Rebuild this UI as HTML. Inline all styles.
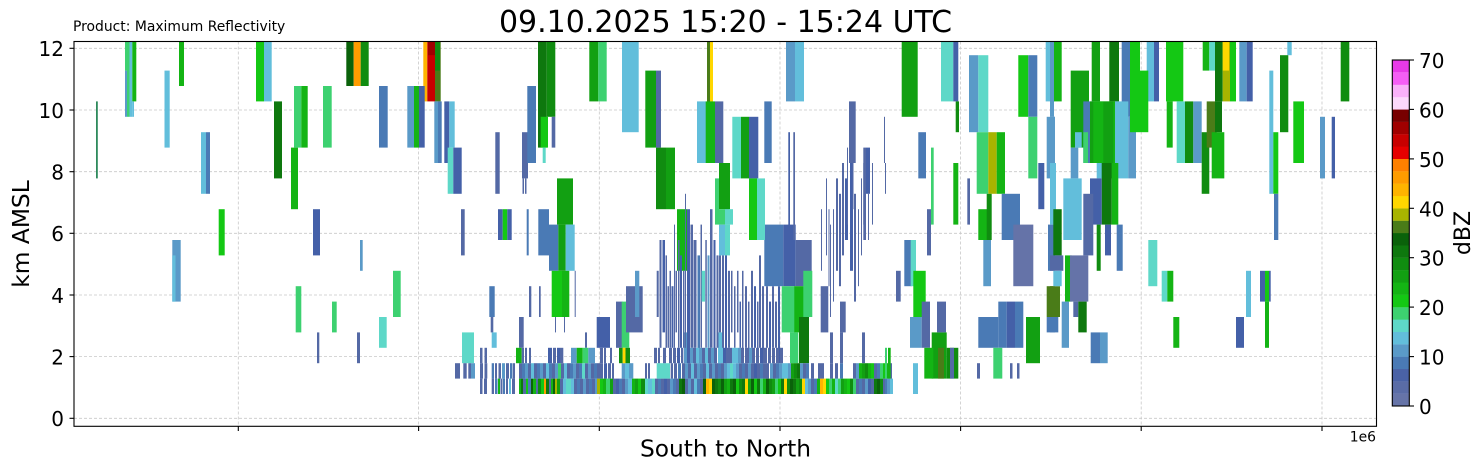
<!DOCTYPE html>
<html><head><meta charset="utf-8"><style>
html,body{margin:0;padding:0;background:#fff;}
svg{display:block;font-family:"DejaVu Sans","Liberation Sans",sans-serif;}
.A{fill:#6573a8}.B{fill:#5469a5}.C{fill:#4460a8}.D{fill:#4a7ab5}.E{fill:#5a9ac8}.F{fill:#62bedb}
.G{fill:#5ed8c8}.H{fill:#3dd170}.I{fill:#14c814}.J{fill:#14b414}.K{fill:#12a012}.L{fill:#108c10}
.M{fill:#0e780e}.N{fill:#0a620a}.O{fill:#4a7c18}.P{fill:#a8b400}.Q{fill:#ffd700}.R{fill:#ffb400}
.S{fill:#ff9c00}.T{fill:#ff8000}.U{fill:#e60000}.V{fill:#c80000}.W{fill:#a00000}.X{fill:#780000}
</style></head><body>
<svg width="1482" height="470" viewBox="0 0 1482 470" xmlns="http://www.w3.org/2000/svg">
<defs><clipPath id="ax"><rect x="74" y="41.5" width="1302.5" height="384.8"/></clipPath></defs>
<rect width="1482" height="470" fill="#fff"/>
<!-- grid -->
<g stroke="#c8c8c8" stroke-width="0.8" stroke-dasharray="3,2" fill="none">
<line x1="74" x2="1376.5" y1="418.3" y2="418.3"/><line x1="74" x2="1376.5" y1="356.6" y2="356.6"/>
<line x1="74" x2="1376.5" y1="295" y2="295"/><line x1="74" x2="1376.5" y1="233.3" y2="233.3"/>
<line x1="74" x2="1376.5" y1="171.7" y2="171.7"/><line x1="74" x2="1376.5" y1="110" y2="110"/>
<line x1="74" x2="1376.5" y1="48.3" y2="48.3"/>
<line x1="238.3" x2="238.3" y1="41.5" y2="426.3"/><line x1="418.6" x2="418.6" y1="41.5" y2="426.3"/>
<line x1="599.3" x2="599.3" y1="41.5" y2="426.3"/><line x1="780" x2="780" y1="41.5" y2="426.3"/>
<line x1="960.6" x2="960.6" y1="41.5" y2="426.3"/><line x1="1141.2" x2="1141.2" y1="41.5" y2="426.3"/>
<line x1="1322" x2="1322" y1="41.5" y2="426.3"/>
</g>
<g clip-path="url(#ax)"><g transform="matrix(1 0 0 -15.4 0 394)">
<!-- zoom6 -->
<rect x="96" y="14" width="1.8" height="5" fill="#2e8a5c"/>
<rect x="125" y="18" width="2" height="3" class="E"/>
<rect x="127" y="18" width="2.5" height="5.3" class="H"/>
<rect x="125" y="21" width="2" height="2.3" class="H"/>
<rect x="129.5" y="18" width="2.8" height="5.3" class="F"/>
<rect x="132.3" y="19" width="4" height="4.3" class="J"/>
<rect x="132.3" y="18" width="1.7" height="1" class="F"/>
<rect x="164.5" y="16" width="5.2" height="5" class="F"/>
<rect x="179" y="20" width="5" height="3.3" class="J"/>
<rect x="201" y="13" width="5" height="4" class="F"/>
<rect x="206" y="13" width="4" height="4" class="D"/>
<rect x="218.7" y="9" width="6" height="3" class="I"/>
<rect x="172.3" y="6" width="8.4" height="4" class="E"/>
<rect x="172.3" y="6" width="3.2" height="3" class="F"/>
<rect x="256" y="19" width="8" height="4.3" class="I"/>
<rect x="264" y="19" width="7.7" height="4.3" class="F"/>
<rect x="274" y="14" width="8" height="5" class="M"/>
<rect x="291" y="12" width="7" height="4" class="J"/>
<rect x="294" y="16" width="7.3" height="4" class="H"/>
<rect x="301.3" y="16" width="6.4" height="4" class="J"/>
<rect x="323" y="16" width="8.7" height="4" class="H"/>
<rect x="313" y="9" width="7" height="3" class="C"/>
<rect x="346.3" y="20" width="7.4" height="3.3" class="N"/>
<rect x="353.7" y="20" width="7" height="3.3" class="S"/>
<rect x="360.7" y="20" width="8" height="3.3" class="L"/>
<rect x="379" y="16" width="8.7" height="4" class="D"/>
<rect x="360" y="8" width="2.7" height="2" class="E"/>
<rect x="393" y="5" width="7.7" height="3" class="H"/>
<rect x="379" y="3" width="7.7" height="2" class="G"/>
<rect x="295.7" y="4" width="5.6" height="3" class="H"/>
<rect x="332" y="4" width="4.7" height="2" class="H"/>
<rect x="317" y="2" width="2.3" height="2" class="B"/>
<rect x="357" y="2" width="3" height="2" class="B"/>
<!-- zoom7 -->
<rect x="423.3" y="19" width="4" height="4.3" class="R"/>
<rect x="427.3" y="19" width="7.7" height="4.3" class="V"/>
<rect x="428" y="22" width="7" height="1.3" class="W"/>
<rect x="435" y="19" width="5.7" height="4.3" class="O"/>
<rect x="435" y="21" width="5" height="2.3" class="L"/>
<rect x="407.3" y="16" width="6.7" height="4" class="E"/>
<rect x="414" y="16" width="5" height="4" class="J"/>
<rect x="419" y="16" width="5.7" height="4" class="C"/>
<rect x="434.3" y="15" width="3.7" height="4" class="E"/>
<rect x="438" y="15" width="3.7" height="4" class="D"/>
<rect x="444.3" y="15" width="5" height="4" class="C"/>
<rect x="449.3" y="16" width="5.4" height="3" class="F"/>
<rect x="447.7" y="13" width="5.6" height="3" class="G"/>
<rect x="453.3" y="13" width="8.4" height="3" class="C"/>
<rect x="495.3" y="13" width="4.4" height="4" class="B"/>
<rect x="522" y="14" width="6" height="3" class="B"/>
<rect x="522.5" y="13" width="1.5" height="1" class="B"/>
<rect x="525" y="13" width="1.5" height="1" class="B"/>
<rect x="527.3" y="15" width="8.7" height="5" class="D"/>
<rect x="538" y="16" width="8.7" height="7.3" class="M"/>
<rect x="546.7" y="18" width="8.6" height="5.3" class="L"/>
<rect x="540.7" y="16" width="7.3" height="2" class="I"/>
<rect x="542.7" y="15" width="3" height="1" class="G"/>
<rect x="551.7" y="16" width="3.6" height="2" class="B"/>
<rect x="589.3" y="19" width="9" height="4.3" class="K"/>
<rect x="598.3" y="19" width="8.4" height="4.3" class="H"/>
<rect x="622" y="17" width="16.7" height="6.3" class="F"/>
<rect x="645.3" y="16" width="10.7" height="5" class="K"/>
<rect x="656" y="16" width="5" height="5" class="B"/>
<rect x="656" y="12" width="10" height="4" class="L"/>
<rect x="666" y="12" width="9" height="4" class="K"/>
<rect x="677" y="8" width="10" height="4" class="J"/>
<rect x="707" y="18" width="3" height="5.3" class="O"/>
<rect x="710" y="18" width="3" height="5.3" class="Q"/>
<rect x="697" y="15" width="9" height="4" class="F"/>
<rect x="705.7" y="15" width="9.3" height="4" class="J"/>
<rect x="715" y="15" width="8.3" height="4" class="B"/>
<rect x="719" y="12" width="11" height="3" class="K"/>
<rect x="715" y="11" width="4" height="3" class="H"/>
<rect x="719" y="11" width="11" height="1" class="H"/>
<rect x="557" y="11" width="16" height="3" class="K"/>
<rect x="549" y="8" width="9.3" height="3" class="D"/>
<rect x="558.3" y="8" width="7.4" height="3" class="K"/>
<rect x="565.7" y="8" width="9" height="3" class="F"/>
<rect x="551.7" y="5" width="10.3" height="3" class="I"/>
<rect x="562" y="5" width="7.3" height="3" class="J"/>
<rect x="555" y="4" width="1" height="1" class="B"/>
<rect x="564" y="4" width="1" height="1" class="B"/>
<rect x="574.7" y="5" width="1" height="3" class="B"/>
<rect x="461" y="9" width="3.7" height="3" class="B"/>
<rect x="498" y="10" width="4.7" height="2" class="C"/>
<rect x="502.7" y="10" width="4.6" height="2" class="I"/>
<rect x="507.3" y="10" width="4.4" height="2" class="C"/>
<rect x="526.7" y="9" width="2" height="3" class="D"/>
<rect x="538.3" y="9" width="10.7" height="3" class="D"/>
<rect x="462" y="2" width="12" height="2" class="G"/>
<rect x="489.3" y="5" width="5.4" height="2" class="D"/>
<rect x="529" y="5" width="2.3" height="2" class="B"/>
<rect x="539" y="5" width="1.7" height="2" class="B"/>
<rect x="519" y="3" width="4.7" height="2" class="B"/>
<rect x="596.7" y="3" width="13.3" height="2" class="C"/>
<rect x="616" y="3" width="6.7" height="3" class="B"/>
<rect x="621.7" y="3" width="7.6" height="3" class="H"/>
<rect x="626" y="4" width="16.7" height="3" class="B"/>
<rect x="635" y="5" width="4.3" height="3" class="E"/>
<rect x="585" y="3" width="2" height="1" class="B"/>
<rect x="490.7" y="4" width="2.6" height="1" class="B"/>
<rect x="491.7" y="3" width="5" height="1" class="F"/>
<!-- dense zone -->
<rect x="684" y="2" width="6" height="2" class="E"/>
<rect x="718" y="2" width="6" height="2" class="F"/>
<rect x="656.7" y="5" width="2" height="3" class="B"/>
<rect x="659.5" y="3" width="2" height="7" class="B"/>
<rect x="662.5" y="4" width="2.5" height="6" class="C"/>
<rect x="665.5" y="3" width="1.5" height="6" class="B"/>
<rect x="667.5" y="3" width="1.5" height="4" class="B"/>
<rect x="669.5" y="3" width="1.5" height="5" class="B"/>
<rect x="671.5" y="3" width="2" height="4" class="C"/>
<rect x="674" y="3" width="1" height="8" class="B"/>
<rect x="675.5" y="4" width="1.5" height="4" class="B"/>
<rect x="678" y="3" width="1.5" height="7" class="B"/>
<rect x="680" y="3" width="2" height="6" class="C"/>
<rect x="683" y="3" width="1.5" height="5" class="B"/>
<rect x="685" y="3" width="1" height="10" class="B"/>
<rect x="687" y="2" width="3" height="10" class="C"/>
<rect x="690.5" y="3" width="2.5" height="8" class="B"/>
<rect x="693.5" y="3" width="3" height="7" class="B"/>
<rect x="697.5" y="2" width="2.5" height="7" class="D"/>
<rect x="700.5" y="3" width="1.5" height="8" class="B"/>
<rect x="701.7" y="6" width="3.3" height="2" class="G"/>
<rect x="705.3" y="3" width="1.5" height="7" class="B"/>
<rect x="707.5" y="3" width="2" height="6" class="E"/>
<rect x="710" y="3" width="2.5" height="9" class="B"/>
<rect x="713.5" y="2" width="2" height="8" class="C"/>
<rect x="716.5" y="3" width="2" height="6" class="B"/>
<rect x="719" y="4" width="2" height="5" class="B"/>
<rect x="719" y="9" width="6" height="2" class="F"/>
<rect x="725" y="9" width="5" height="2" class="G"/>
<rect x="722" y="3" width="2" height="6" class="B"/>
<rect x="725" y="2" width="2" height="7" class="C"/>
<rect x="728" y="3" width="2" height="5" class="B"/>
<rect x="731" y="4" width="1.5" height="4" class="B"/>
<rect x="734" y="3" width="1.5" height="4" class="B"/>
<rect x="737" y="4" width="1.5" height="4" class="B"/>
<rect x="739.5" y="3" width="1.5" height="3" class="C"/>
<rect x="742" y="2" width="1.5" height="6" class="B"/>
<rect x="745" y="3" width="2" height="4" class="B"/>
<rect x="748" y="2" width="1.5" height="4" class="B"/>
<rect x="751" y="3" width="2" height="5" class="B"/>
<rect x="754" y="3" width="2" height="4" class="C"/>
<rect x="757" y="2" width="1.5" height="4" class="B"/>
<rect x="759" y="3" width="2" height="6" class="B"/>
<rect x="762" y="2" width="2" height="5" class="B"/>
<rect x="766" y="3" width="2" height="4" class="B"/>
<rect x="769" y="2" width="2" height="4" class="C"/>
<rect x="772" y="3" width="2" height="4" class="B"/>
<rect x="775" y="3" width="2" height="3" class="B"/>
<rect x="778" y="2" width="2" height="5" class="C"/>
<rect x="764.3" y="7" width="19" height="4" class="D"/>
<rect x="783.3" y="7" width="12.4" height="4" class="C"/>
<rect x="795.7" y="7" width="16" height="3" class="B"/>
<rect x="781.7" y="4" width="13.3" height="3" class="H"/>
<rect x="794.3" y="4" width="10.7" height="3" class="J"/>
<rect x="803.3" y="5" width="9" height="3" class="H"/>
<rect x="790" y="2" width="8.3" height="2" class="H"/>
<rect x="799" y="2" width="10" height="3" class="M"/>
<rect x="820.7" y="4" width="7.6" height="3" class="B"/>
<rect x="840" y="4" width="5.7" height="2" class="B"/>
<rect x="836" y="8" width="2" height="6" class="B"/>
<rect x="839" y="7" width="2" height="6" class="B"/>
<rect x="842" y="9" width="2" height="6" class="B"/>
<rect x="845" y="10" width="3" height="4" class="C"/>
<rect x="849" y="15" width="6.7" height="4" class="B"/>
<rect x="850" y="8" width="3" height="7" class="C"/>
<rect x="854" y="6" width="2" height="7" class="B"/>
<rect x="858" y="7" width="1" height="5" class="B"/>
<rect x="863.3" y="10" width="2.7" height="6" class="B"/>
<rect x="866" y="13" width="4" height="3" class="C"/>
<rect x="868" y="10" width="1" height="3" class="B"/>
<rect x="830" y="5" width="1" height="6" class="B"/>
<rect x="833" y="6" width="1" height="6" class="B"/>
<rect x="788.3" y="10" width="1.7" height="7" class="C"/>
<rect x="793.3" y="10" width="1.7" height="7" class="B"/>
<rect x="821" y="8" width="1" height="4" class="B"/>
<rect x="826" y="9" width="1" height="5" class="B"/>
<rect x="828.5" y="7" width="1" height="5" class="B"/>
<rect x="847" y="11" width="1" height="5" class="B"/>
<rect x="852.5" y="12" width="1" height="3" class="B"/>
<rect x="861" y="9" width="1" height="5" class="B"/>
<rect x="863.3" y="11" width="1.7" height="4" class="B"/>
<rect x="872" y="11" width="1" height="4" class="B"/>
<rect x="884" y="15" width="1" height="3" class="B"/>
<rect x="885" y="13" width="1" height="2" class="B"/>
<!-- zoom8 -->
<rect x="786" y="19" width="9" height="4.3" class="E"/>
<rect x="795" y="19" width="9" height="4.3" class="F"/>
<rect x="901.7" y="18" width="16" height="5.3" class="K"/>
<rect x="941" y="19" width="12.3" height="4.3" class="G"/>
<rect x="953.3" y="19" width="5" height="4.3" class="C"/>
<rect x="955.7" y="17" width="3.3" height="2" class="L"/>
<rect x="969" y="17" width="9.3" height="5" class="E"/>
<rect x="978.3" y="17" width="10" height="5" class="G"/>
<rect x="1018.3" y="18" width="10" height="4" class="I"/>
<rect x="1028.3" y="18" width="9" height="4" class="D"/>
<rect x="1028.3" y="14" width="9" height="4" class="H"/>
<rect x="1045.7" y="19" width="9.3" height="4.3" class="F"/>
<rect x="1046.7" y="14" width="8.3" height="4" class="E"/>
<rect x="1038.3" y="12" width="6" height="3" class="C"/>
<rect x="764.3" y="15" width="7.4" height="4" class="D"/>
<rect x="732.3" y="14" width="8.7" height="4" class="G"/>
<rect x="741" y="14" width="8" height="4" class="K"/>
<rect x="749" y="14" width="9.3" height="4" class="C"/>
<rect x="725" y="12" width="4" height="3" class="K"/>
<rect x="725" y="11" width="8" height="1" class="G"/>
<rect x="749" y="10" width="8" height="4" class="I"/>
<rect x="757" y="10" width="8" height="4" class="G"/>
<rect x="918.3" y="14" width="7.7" height="3" class="D"/>
<rect x="931" y="11" width="2.7" height="5" class="H"/>
<rect x="953.3" y="11" width="5" height="4" class="J"/>
<rect x="927" y="9" width="4" height="3" class="B"/>
<rect x="904.3" y="7" width="7.4" height="3" class="D"/>
<rect x="910.7" y="7" width="5.3" height="3" class="G"/>
<rect x="896" y="6" width="4.7" height="2" class="B"/>
<rect x="913.3" y="5" width="12.4" height="3" class="I"/>
<rect x="910" y="3" width="11.7" height="2" class="E"/>
<rect x="921.7" y="3" width="8.3" height="3" class="B"/>
<rect x="931.7" y="1" width="15" height="3" class="K"/>
<rect x="937" y="4" width="9" height="2" class="B"/>
<rect x="946.7" y="1" width="11.6" height="2" class="L"/>
<rect x="950" y="1" width="4" height="2" class="B"/>
<rect x="924.3" y="1" width="9" height="2" class="J"/>
<rect x="938" y="1" width="6" height="2" class="O"/>
<rect x="976.7" y="13" width="11.6" height="4" class="H"/>
<rect x="988.3" y="13" width="8.4" height="4" class="P"/>
<rect x="996.7" y="13" width="8.3" height="4" class="J"/>
<rect x="978.3" y="10" width="10" height="2" class="J"/>
<rect x="983.3" y="7" width="7.7" height="3" class="E"/>
<rect x="986.7" y="10" width="5" height="3" class="L"/>
<rect x="967.3" y="11" width="2.7" height="3" class="B"/>
<rect x="1001.7" y="10" width="18.3" height="3" class="D"/>
<rect x="1013.3" y="7" width="20" height="4" class="A"/>
<rect x="978.3" y="3" width="20" height="2" class="D"/>
<rect x="998.3" y="3" width="8.4" height="3" class="D"/>
<rect x="1006.7" y="3" width="8.3" height="3" class="C"/>
<rect x="1015" y="3" width="8.3" height="3" class="D"/>
<rect x="1026" y="2" width="14" height="3" class="K"/>
<rect x="993.3" y="1" width="9" height="2" class="H"/>
<rect x="977" y="1" width="3" height="1" class="B"/>
<rect x="1010" y="1" width="2.5" height="1" class="B"/>
<rect x="1017" y="1" width="2.5" height="1" class="B"/>
<rect x="1046.7" y="5" width="8.3" height="2" class="O"/>
<rect x="1046.7" y="4" width="8.3" height="1" class="D"/>
<rect x="1048" y="8" width="7" height="3" class="D"/>
<rect x="913" y="0" width="5" height="2" class="F"/>
<!-- zoom9 -->
<rect x="1050" y="18" width="4" height="5.3" class="E"/>
<rect x="1054" y="19" width="7.7" height="4.3" class="J"/>
<rect x="1050" y="12" width="5" height="6" class="E"/>
<rect x="1050" y="11" width="6" height="4" class="F"/>
<rect x="1091.7" y="19" width="8.3" height="4.3" class="K"/>
<rect x="1109.3" y="19" width="9.7" height="4.3" class="M"/>
<rect x="1121.7" y="18" width="8.3" height="5.3" class="D"/>
<rect x="1130" y="20" width="10" height="3.3" class="I"/>
<rect x="1146.7" y="19" width="7.3" height="4.3" class="F"/>
<rect x="1154" y="19" width="5" height="4.3" class="C"/>
<rect x="1166" y="19" width="17.3" height="4.3" class="I"/>
<rect x="1166.7" y="16" width="6" height="3" class="J"/>
<rect x="1202.7" y="21" width="6.6" height="2.3" class="J"/>
<rect x="1209.3" y="21" width="5.7" height="2.3" class="G"/>
<rect x="1215" y="19" width="7.7" height="4.3" class="M"/>
<rect x="1222.7" y="19" width="7.3" height="4.3" class="P"/>
<rect x="1222.7" y="21" width="6.3" height="2.3" class="Q"/>
<rect x="1230" y="19" width="6" height="4.3" class="I"/>
<rect x="1239.3" y="19" width="7.4" height="4.3" class="E"/>
<rect x="1246.7" y="19" width="6" height="4.3" class="C"/>
<rect x="1287.3" y="22" width="4.4" height="1.3" class="F"/>
<rect x="1340.7" y="19" width="4.3" height="4.3" class="L"/>
<rect x="1345" y="19" width="4.3" height="4.3" class="L"/>
<rect x="1070.7" y="16" width="18.3" height="5" class="K"/>
<rect x="1075" y="16" width="6.7" height="1" class="F"/>
<rect x="1070.7" y="14" width="7.6" height="2" class="E"/>
<rect x="1063.3" y="10" width="18.4" height="4" class="F"/>
<rect x="1053.3" y="9" width="8.4" height="3" class="M"/>
<rect x="1083.3" y="15" width="10" height="4" class="D"/>
<rect x="1090" y="15" width="13.3" height="4" class="K"/>
<rect x="1093.3" y="15" width="21.7" height="4" class="J"/>
<rect x="1103.3" y="14" width="10" height="5" class="K"/>
<rect x="1083.3" y="15" width="4.7" height="2" class="H"/>
<rect x="1096.7" y="14" width="6.6" height="1" class="F"/>
<rect x="1115" y="14" width="13.3" height="5" class="F"/>
<rect x="1128.3" y="14" width="7.7" height="4" class="E"/>
<rect x="1130" y="17" width="18.3" height="4" class="I"/>
<rect x="1101.7" y="11" width="10" height="4" class="M"/>
<rect x="1111.7" y="11" width="6.6" height="4" class="J"/>
<rect x="1090" y="11" width="11.7" height="3" class="C"/>
<rect x="1083.3" y="9" width="10" height="4" class="B"/>
<rect x="1105" y="9" width="6" height="2" class="C"/>
<rect x="1116.7" y="8" width="6" height="3" class="D"/>
<rect x="1096.7" y="8" width="4" height="3" class="L"/>
<rect x="1050" y="8" width="13.3" height="1" class="B"/>
<rect x="1050" y="5" width="10" height="2" class="O"/>
<rect x="1053.3" y="7" width="8.4" height="1" class="F"/>
<rect x="1065" y="6" width="6.7" height="3" class="J"/>
<rect x="1070" y="6" width="18.3" height="3" class="A"/>
<rect x="1073.3" y="5" width="5" height="1" class="B"/>
<rect x="1061.7" y="3" width="7.3" height="3" class="E"/>
<rect x="1078.3" y="4" width="8.4" height="2" class="M"/>
<rect x="1050" y="4" width="8.3" height="1" class="D"/>
<rect x="1090.7" y="2" width="9.3" height="2" class="D"/>
<rect x="1100" y="2" width="7.7" height="2" class="E"/>
<rect x="1176.7" y="15" width="8.3" height="4" class="G"/>
<rect x="1185" y="15" width="8.3" height="4" class="L"/>
<rect x="1193.3" y="15" width="8.4" height="4" class="E"/>
<rect x="1201.7" y="13" width="7.6" height="4" class="L"/>
<rect x="1206.7" y="16" width="10" height="3" class="O"/>
<rect x="1211.7" y="14" width="12.6" height="3" class="J"/>
<rect x="1215" y="17" width="7" height="2" class="M"/>
<rect x="1269.3" y="13" width="4" height="8" class="F"/>
<rect x="1273.3" y="13" width="5" height="4" class="I"/>
<rect x="1274" y="10" width="4.3" height="3" class="D"/>
<rect x="1280" y="17" width="8.3" height="5" class="L"/>
<rect x="1293.3" y="15" width="10.7" height="4" class="I"/>
<rect x="1320" y="14" width="5" height="4" class="E"/>
<rect x="1331.7" y="14" width="3.3" height="4" class="C"/>
<rect x="1148.3" y="7" width="9" height="3" class="G"/>
<rect x="1161.7" y="6" width="5.6" height="2" class="G"/>
<rect x="1167.3" y="6" width="6" height="2" class="J"/>
<rect x="1173.3" y="3" width="6" height="2" class="J"/>
<rect x="1236" y="3" width="8" height="2" class="C"/>
<rect x="1246" y="5" width="5" height="3" class="F"/>
<rect x="1260" y="6" width="5" height="2" class="C"/>
<rect x="1265" y="6" width="4" height="2" class="I"/>
<rect x="1269" y="6" width="1.7" height="2" class="C"/>
<rect x="1265" y="3" width="4" height="3" class="J"/>
</g>
<!-- bottom rows -->
<g transform="matrix(1 0 0 -15.4 0 394)">
<g>
<rect x="480" y="0" width="2.5" height="1" class="B"/><rect x="484" y="0" width="3" height="1" class="B"/>
<rect x="491.7" y="0" width="2.3" height="1" class="B"/><rect x="495" y="0" width="2.5" height="1" class="D"/>
<rect x="498" y="0" width="2" height="1" class="J"/><rect x="500.5" y="0" width="2" height="1" class="B"/>
<rect x="503" y="0" width="2" height="1" class="D"/><rect x="506" y="0" width="2" height="1" class="B"/>
<rect x="509" y="0" width="2" height="1" class="F"/><rect x="512" y="0" width="3" height="1" class="B"/>
<rect x="519" y="0" width="2" height="1" class="J"/><rect x="521" y="0" width="2" height="1" class="M"/>
<rect x="523" y="0" width="3" height="1" class="B"/><rect x="526" y="0" width="2" height="1" class="I"/>
<rect x="528" y="0" width="3" height="1" class="D"/><rect x="531" y="0" width="2" height="1" class="N"/>
<rect x="533" y="0" width="3" height="1" class="J"/><rect x="536" y="0" width="2" height="1" class="B"/>
<rect x="538" y="0" width="3" height="1" class="L"/><rect x="541" y="0" width="3" height="1" class="I"/>
<rect x="544" y="0" width="2" height="1" class="S"/><rect x="546" y="0" width="3" height="1" class="M"/>
<rect x="549" y="0" width="2" height="1" class="B"/><rect x="551" y="0" width="2" height="1" class="J"/>
<rect x="553" y="0" width="2" height="1" class="N"/><rect x="555" y="0" width="2" height="1" class="P"/>
<rect x="557" y="0" width="3" height="1" class="K"/><rect x="560" y="0" width="3" height="1" class="B"/>
<rect x="563" y="0" width="3" height="1" class="F"/><rect x="566" y="0" width="5" height="1" class="G"/>
<rect x="571" y="0" width="3" height="1" class="F"/><rect x="574" y="0" width="3" height="1" class="B"/>
<rect x="577" y="0" width="3" height="1" class="D"/><rect x="580" y="0" width="3" height="1" class="B"/>
<rect x="583" y="0" width="3" height="1" class="E"/><rect x="586" y="0" width="3" height="1" class="B"/>
<rect x="589" y="0" width="3" height="1" class="D"/><rect x="592" y="0" width="3" height="1" class="B"/>
<rect x="595" y="0" width="2" height="1" class="E"/><rect x="597" y="0" width="3" height="1" class="P"/>
<rect x="600" y="0" width="3" height="1" class="I"/><rect x="603" y="0" width="3" height="1" class="J"/>
<rect x="606" y="0" width="4" height="1" class="H"/><rect x="610" y="0" width="3" height="1" class="K"/>
<rect x="613" y="0" width="3" height="1" class="B"/><rect x="616" y="0" width="3" height="1" class="C"/>
<rect x="619" y="0" width="3" height="1" class="D"/><rect x="622" y="0" width="3" height="1" class="B"/>
<rect x="625" y="0" width="3" height="1" class="E"/><rect x="628" y="0" width="4" height="1" class="F"/>
<rect x="632" y="0" width="3" height="1" class="J"/><rect x="635" y="0" width="3" height="1" class="K"/>
<rect x="638" y="0" width="3" height="1" class="I"/><rect x="641" y="0" width="4" height="1" class="L"/>
<rect x="645" y="0" width="3" height="1" class="G"/><rect x="648" y="0" width="4" height="1" class="F"/>
<rect x="652" y="0" width="3" height="1" class="G"/><rect x="655" y="0" width="3" height="1" class="B"/>
<rect x="658" y="0" width="3" height="1" class="D"/><rect x="661" y="0" width="3" height="1" class="B"/>
<rect x="664" y="0" width="3" height="1" class="C"/><rect x="667" y="0" width="3" height="1" class="B"/>
<rect x="670" y="0" width="3" height="1" class="E"/><rect x="673" y="0" width="3" height="1" class="D"/>
<rect x="676" y="0" width="3" height="1" class="B"/><rect x="679" y="0" width="3" height="1" class="M"/>
<rect x="682" y="0" width="3" height="1" class="N"/><rect x="685" y="0" width="3" height="1" class="B"/>
<rect x="688" y="0" width="3" height="1" class="E"/><rect x="691" y="0" width="3" height="1" class="B"/>
<rect x="694" y="0" width="3" height="1" class="F"/><rect x="697" y="0" width="3" height="1" class="D"/>
<rect x="700" y="0" width="3" height="1" class="B"/><rect x="703" y="0" width="3" height="1" class="N"/>
<rect x="706" y="0" width="3" height="1" class="R"/><rect x="709" y="0" width="3" height="1" class="Q"/>
<rect x="712" y="0" width="3" height="1" class="N"/><rect x="715" y="0" width="3" height="1" class="M"/>
<rect x="718" y="0" width="3" height="1" class="L"/><rect x="721" y="0" width="3" height="1" class="N"/>
<rect x="724" y="0" width="3" height="1" class="K"/><rect x="727" y="0" width="3" height="1" class="J"/>
<rect x="730" y="0" width="3" height="1" class="M"/><rect x="733" y="0" width="3" height="1" class="N"/>
<rect x="736" y="0" width="3" height="1" class="I"/><rect x="739" y="0" width="3" height="1" class="L"/>
<rect x="742" y="0" width="3" height="1" class="M"/><rect x="745" y="0" width="3" height="1" class="Q"/>
<rect x="748" y="0" width="3" height="1" class="K"/><rect x="751" y="0" width="3" height="1" class="N"/>
<rect x="754" y="0" width="3" height="1" class="I"/><rect x="757" y="0" width="3" height="1" class="M"/>
<rect x="760" y="0" width="3" height="1" class="H"/><rect x="763" y="0" width="3" height="1" class="J"/>
<rect x="766" y="0" width="3" height="1" class="N"/><rect x="769" y="0" width="3" height="1" class="L"/>
<rect x="772" y="0" width="3" height="1" class="K"/><rect x="775" y="0" width="3" height="1" class="H"/>
<rect x="778" y="0" width="3" height="1" class="I"/><rect x="781" y="0" width="3" height="1" class="M"/>
<rect x="784" y="0" width="3" height="1" class="Q"/><rect x="787" y="0" width="3" height="1" class="L"/>
<rect x="790" y="0" width="3" height="1" class="N"/><rect x="793" y="0" width="3" height="1" class="M"/>
<rect x="796" y="0" width="3" height="1" class="K"/><rect x="799" y="0" width="3" height="1" class="L"/>
<rect x="802" y="0" width="3" height="1" class="Q"/><rect x="805" y="0" width="3" height="1" class="F"/>
<rect x="808" y="0" width="3" height="1" class="E"/><rect x="811" y="0" width="3" height="1" class="B"/>
<rect x="814" y="0" width="3" height="1" class="D"/><rect x="817" y="0" width="3" height="1" class="J"/>
<rect x="820" y="0" width="3" height="1" class="R"/><rect x="823" y="0" width="3" height="1" class="Q"/>
<rect x="826" y="0" width="3" height="1" class="I"/><rect x="829" y="0" width="3" height="1" class="H"/>
<rect x="832" y="0" width="3" height="1" class="J"/><rect x="835" y="0" width="3" height="1" class="G"/>
<rect x="838" y="0" width="3" height="1" class="H"/><rect x="841" y="0" width="3" height="1" class="K"/>
<rect x="844" y="0" width="3" height="1" class="J"/><rect x="847" y="0" width="3" height="1" class="I"/>
<rect x="850" y="0" width="3" height="1" class="L"/><rect x="853" y="0" width="3" height="1" class="H"/>
<rect x="856" y="0" width="3" height="1" class="B"/><rect x="859" y="0" width="3" height="1" class="D"/>
<rect x="862" y="0" width="3" height="1" class="B"/><rect x="865" y="0" width="3" height="1" class="E"/>
<rect x="868" y="0" width="3" height="1" class="C"/><rect x="871" y="0" width="3" height="1" class="B"/>
<rect x="874" y="0" width="3" height="1" class="M"/><rect x="877" y="0" width="3" height="1" class="N"/>
<rect x="880" y="0" width="3" height="1" class="L"/><rect x="883" y="0" width="2" height="1" class="B"/>
<rect x="885" y="0" width="2" height="1" class="D"/><rect x="887" y="0" width="3" height="1" class="E"/>
<rect x="890" y="0" width="3" height="1" class="F"/>
</g>
<g>
<rect x="455" y="1" width="5" height="1" class="B"/><rect x="463.3" y="1" width="3.4" height="1" class="B"/>
<rect x="468.3" y="1" width="2.7" height="1" class="B"/><rect x="471" y="1" width="4" height="1" class="E"/>
<rect x="480" y="1" width="3" height="1" class="B"/><rect x="484.5" y="1" width="2.8" height="1" class="B"/>
<rect x="491.7" y="1" width="2.3" height="1" class="D"/><rect x="495" y="1" width="2" height="1" class="B"/>
<rect x="498.5" y="1" width="2.5" height="1" class="B"/><rect x="502" y="1" width="3" height="1" class="E"/>
<rect x="506" y="1" width="3" height="1" class="B"/><rect x="510" y="1" width="2.5" height="1" class="D"/>
<rect x="513" y="1" width="2" height="1" class="B"/><rect x="519" y="1" width="3" height="1" class="B"/>
<rect x="522" y="1" width="3" height="1" class="D"/><rect x="525" y="1" width="3" height="1" class="E"/>
<rect x="528" y="1" width="3" height="1" class="B"/><rect x="531" y="1" width="3" height="1" class="F"/>
<rect x="534" y="1" width="3" height="1" class="B"/><rect x="537" y="1" width="3" height="1" class="D"/>
<rect x="540" y="1" width="3" height="1" class="E"/><rect x="543" y="1" width="3" height="1" class="B"/>
<rect x="546" y="1" width="3" height="1" class="F"/><rect x="549" y="1" width="3" height="1" class="D"/>
<rect x="552" y="1" width="3" height="1" class="B"/><rect x="555" y="1" width="3" height="1" class="E"/>
<rect x="558" y="1" width="3" height="1" class="H"/><rect x="561" y="1" width="3" height="1" class="B"/>
<rect x="564" y="1" width="3" height="1" class="F"/><rect x="567" y="1" width="3" height="1" class="B"/>
<rect x="570" y="1" width="3" height="1" class="D"/><rect x="573" y="1" width="3" height="1" class="E"/>
<rect x="576" y="1" width="3" height="1" class="B"/><rect x="579" y="1" width="3" height="1" class="D"/>
<rect x="582" y="1" width="3" height="1" class="G"/><rect x="585" y="1" width="3" height="1" class="B"/>
<rect x="588" y="1" width="3" height="1" class="E"/><rect x="591" y="1" width="3" height="1" class="B"/>
<rect x="594" y="1" width="3" height="1" class="D"/><rect x="597" y="1" width="3" height="1" class="B"/>
<rect x="600" y="1" width="3" height="1" class="B"/><rect x="604" y="1" width="3" height="1" class="C"/>
<rect x="608" y="1" width="3" height="1" class="B"/><rect x="612" y="1" width="2" height="1" class="B"/>
<rect x="621.7" y="1" width="3.3" height="1" class="E"/><rect x="625" y="1" width="4" height="1" class="F"/>
<rect x="629" y="1" width="4.3" height="1" class="E"/><rect x="645" y="1" width="2" height="1" class="B"/>
<rect x="648" y="1" width="2" height="1" class="B"/><rect x="656.7" y="1" width="13.3" height="1" class="G"/>
<rect x="670.7" y="1" width="2.3" height="1" class="B"/><rect x="674" y="1" width="3" height="1" class="B"/>
<rect x="678" y="1" width="3" height="1" class="D"/><rect x="682" y="1" width="3" height="1" class="B"/>
<rect x="685" y="1" width="3" height="1" class="E"/><rect x="688" y="1" width="3" height="1" class="B"/>
<rect x="691" y="1" width="3" height="1" class="F"/><rect x="694" y="1" width="3" height="1" class="B"/>
<rect x="697" y="1" width="3" height="1" class="E"/><rect x="700" y="1" width="3" height="1" class="D"/>
<rect x="703" y="1" width="3" height="1" class="B"/><rect x="706" y="1" width="3" height="1" class="F"/>
<rect x="709" y="1" width="3" height="1" class="B"/><rect x="712" y="1" width="3" height="1" class="E"/>
<rect x="715" y="1" width="3" height="1" class="B"/><rect x="718" y="1" width="3" height="1" class="D"/>
<rect x="721" y="1" width="3" height="1" class="B"/><rect x="724" y="1" width="3" height="1" class="E"/>
<rect x="727" y="1" width="3" height="1" class="F"/><rect x="730" y="1" width="3" height="1" class="G"/>
<rect x="733" y="1" width="3" height="1" class="F"/><rect x="736" y="1" width="3" height="1" class="E"/>
<rect x="739" y="1" width="3" height="1" class="B"/><rect x="742" y="1" width="3" height="1" class="D"/>
<rect x="745" y="1" width="3" height="1" class="B"/><rect x="748" y="1" width="3" height="1" class="E"/>
<rect x="751" y="1" width="3" height="1" class="B"/><rect x="754" y="1" width="3" height="1" class="C"/>
<rect x="757" y="1" width="3" height="1" class="B"/><rect x="760" y="1" width="3" height="1" class="D"/>
<rect x="763" y="1" width="3" height="1" class="B"/><rect x="766" y="1" width="3" height="1" class="B"/>
<rect x="770" y="1" width="3" height="1" class="E"/><rect x="773" y="1" width="3" height="1" class="B"/>
<rect x="776" y="1" width="3" height="1" class="D"/><rect x="779" y="1" width="3" height="1" class="E"/>
<rect x="782" y="1" width="6" height="1" class="F"/><rect x="788" y="1" width="3" height="1" class="E"/>
<rect x="791" y="1" width="3" height="1" class="K"/><rect x="794" y="1" width="3" height="1" class="L"/>
<rect x="797" y="1" width="3" height="1" class="M"/><rect x="800" y="1" width="3" height="1" class="E"/>
<rect x="803" y="1" width="3" height="1" class="B"/><rect x="806" y="1" width="3" height="1" class="D"/>
<rect x="811" y="1" width="3" height="1" class="B"/><rect x="818" y="1" width="3" height="1" class="B"/>
<rect x="821" y="1" width="3" height="1" class="B"/><rect x="830" y="1" width="3" height="1" class="B"/>
<rect x="835" y="1" width="3" height="1" class="B"/><rect x="840" y="1" width="3" height="1" class="D"/>
<rect x="853" y="1" width="3" height="1" class="B"/><rect x="856" y="1" width="3" height="1" class="E"/>
<rect x="859" y="1" width="3" height="1" class="J"/><rect x="862" y="1" width="3" height="1" class="K"/>
<rect x="865" y="1" width="3" height="1" class="L"/><rect x="868" y="1" width="3" height="1" class="J"/>
<rect x="871" y="1" width="3" height="1" class="I"/><rect x="874" y="1" width="3" height="1" class="B"/>
<rect x="877" y="1" width="3" height="1" class="D"/><rect x="880" y="1" width="3" height="1" class="H"/>
<rect x="883" y="1" width="3" height="1" class="I"/><rect x="886" y="1" width="3" height="1" class="J"/>
<rect x="889" y="1" width="3" height="1" class="B"/>
</g>
<g>
<rect x="480" y="2" width="2.5" height="1" class="B"/><rect x="484.5" y="2" width="2.5" height="1" class="B"/>
<rect x="516" y="2" width="5.7" height="1" class="J"/><rect x="521.7" y="2" width="2.3" height="1" class="B"/>
<rect x="525" y="2" width="2" height="1" class="B"/><rect x="529" y="2" width="2" height="1" class="B"/>
<rect x="548" y="2" width="4" height="1" class="C"/><rect x="553" y="2" width="3" height="1" class="B"/>
<rect x="557" y="2" width="3" height="1" class="C"/><rect x="560" y="2" width="3.3" height="1" class="B"/>
<rect x="571" y="2" width="5.7" height="1" class="E"/><rect x="576.7" y="2" width="6" height="1" class="J"/>
<rect x="582.7" y="2" width="5.6" height="1" class="H"/><rect x="588.3" y="2" width="6.7" height="1" class="E"/>
<rect x="600" y="2" width="3" height="1" class="B"/><rect x="604" y="2" width="2" height="1" class="B"/>
<rect x="610" y="2" width="2" height="1" class="B"/><rect x="619" y="2" width="3.7" height="1" class="L"/>
<rect x="622.7" y="2" width="2.8" height="1" class="Q"/><rect x="625.5" y="2" width="4.5" height="1" class="L"/>
<rect x="654" y="2" width="3" height="1" class="B"/><rect x="658" y="2" width="2" height="1" class="B"/>
<rect x="663" y="2" width="3" height="1" class="B"/><rect x="669" y="2" width="3" height="1" class="B"/>
<rect x="673" y="2" width="3" height="1" class="B"/><rect x="677" y="2" width="3" height="1" class="C"/>
<rect x="681" y="2" width="2.3" height="1" class="B"/><rect x="690" y="2" width="3" height="1" class="E"/>
<rect x="693" y="2" width="3" height="1" class="B"/><rect x="696" y="2" width="3" height="1" class="F"/>
<rect x="699" y="2" width="3" height="1" class="E"/><rect x="702" y="2" width="3" height="1" class="B"/>
<rect x="705" y="2" width="3" height="1" class="F"/><rect x="708" y="2" width="3" height="1" class="B"/>
<rect x="711" y="2" width="3" height="1" class="E"/><rect x="714" y="2" width="3" height="1" class="B"/>
<rect x="723" y="2" width="3" height="1" class="C"/><rect x="726" y="2" width="3" height="1" class="B"/>
<rect x="729" y="2" width="3" height="1" class="B"/><rect x="732" y="2" width="6" height="1" class="F"/>
<rect x="738" y="2" width="3" height="1" class="E"/><rect x="741" y="2" width="3" height="1" class="B"/>
<rect x="745" y="2" width="3" height="1" class="B"/><rect x="749" y="2" width="3" height="1" class="E"/>
<rect x="752" y="2" width="3" height="1" class="B"/><rect x="756" y="2" width="3" height="1" class="B"/>
<rect x="760" y="2" width="3" height="1" class="C"/><rect x="764" y="2" width="3" height="1" class="B"/>
<rect x="768" y="2" width="3" height="1" class="B"/><rect x="772" y="2" width="3" height="1" class="B"/>
<rect x="776" y="2" width="3" height="1" class="B"/><rect x="780" y="2" width="3" height="1" class="B"/>
<rect x="830" y="2" width="3" height="2" class="B"/><rect x="840" y="2" width="3" height="2" class="B"/>
<rect x="862" y="2" width="3" height="2" class="B"/><rect x="885" y="1" width="2" height="2" class="H"/>
<rect x="888" y="1" width="2.7" height="2" class="J"/>
</g>
</g>
</g>
<!-- axes frame & ticks -->
<rect x="74" y="41.5" width="1302.5" height="384.8" fill="none" stroke="#000" stroke-width="1.1"/>
<g stroke="#000" stroke-width="1.1">
<line x1="69.5" x2="74" y1="418.3" y2="418.3"/><line x1="69.5" x2="74" y1="356.6" y2="356.6"/>
<line x1="69.5" x2="74" y1="295" y2="295"/><line x1="69.5" x2="74" y1="233.3" y2="233.3"/>
<line x1="69.5" x2="74" y1="171.7" y2="171.7"/><line x1="69.5" x2="74" y1="110" y2="110"/>
<line x1="69.5" x2="74" y1="48.3" y2="48.3"/>
<line x1="238.3" x2="238.3" y1="426.3" y2="431"/><line x1="418.6" x2="418.6" y1="426.3" y2="431"/>
<line x1="599.3" x2="599.3" y1="426.3" y2="431"/><line x1="780" x2="780" y1="426.3" y2="431"/>
<line x1="960.6" x2="960.6" y1="426.3" y2="431"/><line x1="1141.2" x2="1141.2" y1="426.3" y2="431"/>
<line x1="1322" x2="1322" y1="426.3" y2="431"/>
</g>
<g font-size="20" text-anchor="end" fill="#000">
<text x="64" y="426.1">0</text><text x="64" y="364.4">2</text><text x="64" y="302.8">4</text>
<text x="64" y="241.1">6</text><text x="64" y="179.5">8</text><text x="64" y="117.8">10</text>
<text x="64" y="56.1">12</text>
</g>
<!-- colorbar -->
<g>
<rect x="1392.3" y="393.64" width="17" height="12.5" fill="#6674a8"/>
<rect x="1392.3" y="381.29" width="17" height="12.5" fill="#5a6ca6"/>
<rect x="1392.3" y="368.93" width="17" height="12.5" fill="#4a62a6"/>
<rect x="1392.3" y="356.57" width="17" height="12.5" fill="#4a7ab5"/>
<rect x="1392.3" y="344.21" width="17" height="12.5" fill="#5a9ac8"/>
<rect x="1392.3" y="331.86" width="17" height="12.5" fill="#62bedb"/>
<rect x="1392.3" y="319.5" width="17" height="12.5" fill="#5ed8c8"/>
<rect x="1392.3" y="307.14" width="17" height="12.5" fill="#3dd170"/>
<rect x="1392.3" y="294.79" width="17" height="12.5" fill="#14c814"/>
<rect x="1392.3" y="282.43" width="17" height="12.5" fill="#14b414"/>
<rect x="1392.3" y="270.07" width="17" height="12.5" fill="#12a012"/>
<rect x="1392.3" y="257.71" width="17" height="12.5" fill="#108c10"/>
<rect x="1392.3" y="245.36" width="17" height="12.5" fill="#0e780e"/>
<rect x="1392.3" y="233" width="17" height="12.5" fill="#0a620a"/>
<rect x="1392.3" y="220.64" width="17" height="12.5" fill="#4a7c18"/>
<rect x="1392.3" y="208.29" width="17" height="12.5" fill="#a8b400"/>
<rect x="1392.3" y="195.93" width="17" height="12.5" fill="#ffd700"/>
<rect x="1392.3" y="183.57" width="17" height="12.5" fill="#ffb400"/>
<rect x="1392.3" y="171.21" width="17" height="12.5" fill="#ff9c00"/>
<rect x="1392.3" y="158.86" width="17" height="12.5" fill="#ff8000"/>
<rect x="1392.3" y="146.5" width="17" height="12.5" fill="#e60000"/>
<rect x="1392.3" y="134.14" width="17" height="12.5" fill="#c80000"/>
<rect x="1392.3" y="121.79" width="17" height="12.5" fill="#a00000"/>
<rect x="1392.3" y="109.43" width="17" height="12.5" fill="#780000"/>
<rect x="1392.3" y="97.07" width="17" height="12.5" fill="#fbd9fb"/>
<rect x="1392.3" y="84.71" width="17" height="12.5" fill="#f9b1f9"/>
<rect x="1392.3" y="72.36" width="17" height="12.5" fill="#f55ef5"/>
<rect x="1392.3" y="60" width="17" height="12.36" fill="#e83ae8"/>
<rect x="1392.3" y="60" width="17" height="346" fill="none" stroke="#000" stroke-width="1.1"/>
</g>
<g stroke="#000" stroke-width="1.1">
<line x1="1409.3" x2="1414" y1="406" y2="406"/><line x1="1409.3" x2="1414" y1="356.6" y2="356.6"/>
<line x1="1409.3" x2="1414" y1="307.1" y2="307.1"/><line x1="1409.3" x2="1414" y1="257.7" y2="257.7"/>
<line x1="1409.3" x2="1414" y1="208.3" y2="208.3"/><line x1="1409.3" x2="1414" y1="158.9" y2="158.9"/>
<line x1="1409.3" x2="1414" y1="109.4" y2="109.4"/><line x1="1409.3" x2="1414" y1="60" y2="60"/>
</g>
<g font-size="20" fill="#000">
<text x="1419" y="414">0</text><text x="1419" y="364.6">10</text><text x="1419" y="315.1">20</text>
<text x="1419" y="265.7">30</text><text x="1419" y="216.3">40</text><text x="1419" y="166.9">50</text>
<text x="1419" y="117.4">60</text><text x="1419" y="68">70</text>
</g>
<text transform="translate(1470,233) rotate(-90)" font-size="22" text-anchor="middle" fill="#000">dBZ</text>
<!-- titles & labels -->
<text x="725.5" y="32" font-size="30" text-anchor="middle" fill="#000">09.10.2025 15:20 - 15:24 UTC</text>
<text x="73" y="31" font-size="13.9" fill="#000">Product: Maximum Reflectivity</text>
<text x="725.5" y="456.5" font-size="23.3" text-anchor="middle" fill="#000">South to North</text>
<text transform="translate(29,234) rotate(-90)" font-size="23.3" text-anchor="middle" fill="#000">km AMSL</text>
<text x="1376" y="441.5" font-size="13.9" text-anchor="end" fill="#000">1e6</text>
</svg>
</body></html>
